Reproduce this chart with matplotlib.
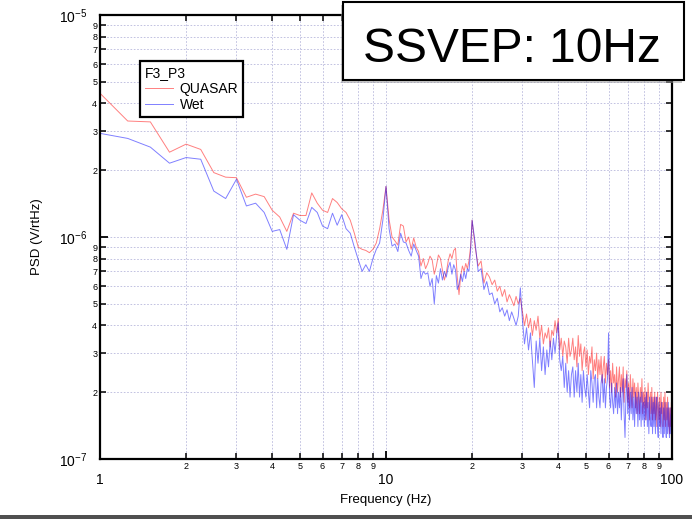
import numpy as np
import matplotlib
matplotlib.use("Agg")
import matplotlib.pyplot as plt
from matplotlib.ticker import FuncFormatter, LogLocator
from matplotlib.patches import Rectangle

plt.rcParams["font.family"] = ["Liberation Sans", "DejaVu Sans"]
plt.rcParams["mathtext.default"] = "regular"

# sample grid of the spectrum (Hz): 0.25 Hz below 20 Hz, 0.5 Hz above
f_low = np.arange(1, 20, 0.25)
f_high = np.arange(20, 100.01, 0.5)

# PSD values in units of 1e-7 V/rtHz
quasar_low = [
    44.4, 33.3, 33.0, 24.1, 26.2, 24.8, 19.5, 18.6, 18.5, 15.1,
    15.6, 15.2, 13.2, 12.3, 10.6, 12.8, 12.5, 12.5, 15.8, 14.2,
    13.2, 12.9, 14.9, 14.3, 13.4, 12.9, 11.9, 10.4, 9.0, 8.8,
    8.7, 8.5, 8.8, 9.4, 10.9, 13.2, 16.9, 12.0, 10.0, 9.6,
    9.2, 11.4, 11.2, 9.5, 10.0, 8.8, 9.9, 9.0, 8.6, 7.4,
    8.0, 7.2,
    7.6, 8.2, 7.9, 6.8, 7.4, 8.3, 8.0, 7.1, 6.4, 6.9,
    7.8, 8.4, 8.0, 8.7, 8.9, 6.6, 5.5, 6.7, 7.4, 7.0,
    7.6, 7.2, 7.8, 9.0,
]
quasar_high = [
    11.9, 9.0, 7.4, 7.8, 6.2, 6.9, 6.6, 6.1, 6.4, 5.7,
    6.0, 5.4, 5.8, 5.1, 5.5, 5.2, 4.9, 5.4, 5.0, 5.3,
    4.6, 4.0, 4.5, 3.9, 4.3, 3.6, 4.2, 3.8, 4.4, 3.5,
    4.0, 3.3, 3.7, 3.5, 3.9, 3.2, 3.8, 3.6, 4.2, 3.7,
    4.3, 3.1, 3.5, 2.9, 3.4, 3.2, 2.7, 3.5, 2.9, 3.1,
    3.5, 2.8, 3.2, 2.6, 3.6, 2.9, 3.3, 2.5, 3.0, 3.2,
    2.6, 3.1, 2.4, 2.9, 2.7, 3.2, 2.3, 2.8, 2.5, 3.0,
    2.3, 2.8, 2.4, 2.9, 2.2, 2.6, 2.9, 2.2, 2.7, 2.4,
    2.8, 2.1, 2.5, 2.0, 2.7, 2.2, 2.4, 1.9, 2.6, 2.0,
    2.3, 2.6, 1.9, 2.4, 2.0, 2.6, 1.8, 2.3, 2.1, 2.5,
    1.8, 2.2, 1.7, 2.4, 2.0, 1.7, 2.3, 1.9, 2.2, 1.7,
    2.1, 1.6, 2.2, 1.9, 1.6, 2.1, 1.8, 2.3, 1.6, 2.0,
    1.7, 2.1, 1.5, 2.0, 1.7, 2.2, 1.8, 1.5, 2.0, 1.6,
    2.1, 1.5, 1.9, 1.6, 2.0, 1.5, 1.9, 1.4, 2.0, 1.7,
    1.5, 1.9, 1.4, 2.0, 1.6, 1.8, 1.4, 1.9, 1.5, 2.0,
    1.4, 1.8, 1.5, 1.9, 1.4, 1.7, 1.3, 1.7, 1.4, 1.8,
    1.4,
]
wet_low = [
    29.3, 27.8, 25.4, 21.5, 22.8, 22.4, 16.1, 14.9, 18.2, 13.8,
    14.2, 12.9, 10.6, 10.8, 8.8, 12.6, 11.9, 11.5, 13.6, 12.9,
    11.2, 10.9, 12.8, 11.3, 12.6, 10.9, 10.4, 9.0, 7.9, 7.0,
    7.5, 7.0, 8.0, 8.8, 9.4, 11.9, 16.9, 10.9, 9.1, 9.3,
    8.6, 10.4, 9.5, 9.4, 8.7, 8.2, 9.3, 8.7, 8.2, 6.5,
    7.0, 6.8,
    6.9, 6.0, 6.5, 5.0, 6.7, 6.2, 7.2, 6.4, 7.0, 6.6,
    7.3, 7.7, 6.8, 7.5, 7.1, 5.8, 6.1, 6.8, 6.3, 7.0,
    6.5, 7.2, 7.0, 8.6,
]
wet_high = [
    11.9, 9.4, 7.0, 7.2, 5.8, 6.3, 5.5, 5.6, 5.0, 5.3,
    4.6, 4.8, 4.4, 4.7, 4.2, 4.6, 4.3, 4.0, 4.4, 5.9,
    4.2, 3.3, 3.9, 3.1, 3.7, 2.8, 2.1, 3.4, 2.7, 3.5,
    2.5, 3.2, 2.4, 3.1, 2.6, 3.4, 2.8, 3.5, 3.0, 3.6,
    4.1, 2.8, 2.5, 2.9, 2.1, 2.7, 2.0, 2.5, 1.9, 2.4,
    2.6, 1.9, 2.5, 2.0, 2.7, 1.9, 2.4, 1.8, 2.5, 2.1,
    1.9, 2.4, 2.0, 1.7, 2.5, 2.2, 1.8, 2.3, 2.4, 1.7,
    2.3, 1.9, 1.7, 2.2, 2.4, 1.8, 2.3, 1.7, 2.1, 2.3,
    3.7, 1.9, 1.7, 2.2, 1.8, 1.6, 2.1, 1.7, 2.2, 1.6,
    2.0, 1.7, 2.1, 1.5, 2.0, 2.3, 1.6, 1.25, 1.9, 2.4,
    1.6, 2.1, 1.5, 2.0, 1.6, 2.1, 1.5, 1.9, 1.4, 2.0,
    1.6, 1.9, 1.4, 2.0, 1.5, 1.9, 1.4, 2.0, 1.5, 1.8,
    1.4, 1.9, 1.5, 2.0, 1.4, 1.8, 1.3, 1.9, 1.5, 1.4,
    1.9, 1.3, 1.8, 1.4, 1.9, 1.3, 1.7, 1.9, 1.4, 1.25,
    1.8, 1.4, 1.7, 1.3, 1.8, 1.4, 1.25, 1.7, 1.3, 1.8,
    1.4, 1.25, 1.7, 1.3, 1.8, 1.4, 1.25, 1.7, 1.3, 1.6,
    1.4,
]

freq = np.concatenate([f_low, f_high])
quasar = np.array(quasar_low + quasar_high) * 1e-7
wet = np.array(wet_low + wet_high) * 1e-7

fig = plt.figure(figsize=(6.92, 5.19), dpi=100)
ax = fig.add_axes([100 / 692, 60 / 519, 572 / 692, 444 / 519])

ax.plot(freq, quasar, color="red", lw=0.7, alpha=0.5, label="QUASAR")
ax.plot(freq, wet, color="blue", lw=0.7, alpha=0.5, label="Wet")

ax.set_xscale("log")
ax.set_yscale("log")
ax.set_xlim(1, 100)
ax.set_ylim(1e-7, 1e-5)

ax.xaxis.set_minor_locator(LogLocator(base=10, subs=np.arange(2, 10)))
ax.yaxis.set_minor_locator(LogLocator(base=10, subs=np.arange(2, 10)))

def mantissa(v, pos):
    return "%d" % round(v / 10 ** np.floor(np.log10(v) + 1e-9))

ax.xaxis.set_major_formatter(FuncFormatter(lambda v, p: "%g" % v))
ax.xaxis.set_minor_formatter(FuncFormatter(mantissa))
ax.yaxis.set_minor_formatter(FuncFormatter(mantissa))

ax.tick_params(which="both", direction="in", top=True, right=True, color="black")
ax.tick_params(which="major", length=6, width=1.3, labelsize=10)
ax.tick_params(which="minor", length=4, width=1.1, labelsize=6.5, pad=2)
ax.tick_params(axis="x", which="major", pad=10)
ax.tick_params(axis="y", which="major", pad=9)

for s in ax.spines.values():
    s.set_linewidth(1.6)

ax.grid(which="both", linestyle=(0, (2, 2)), color="#b8b8dc", lw=0.6)

leg = ax.legend(title="F3_P3", loc="upper left", bbox_to_anchor=(0.07, 0.896),
                borderaxespad=0, fontsize=10, title_fontsize=10, fancybox=False,
                framealpha=1, edgecolor="black", handlelength=2.0,
                handletextpad=0.5, borderpad=0.35, labelspacing=0.15,
                alignment="left")
leg.get_frame().set_linewidth(1.6)

ax.set_xlabel("Frequency (Hz)", fontsize=9.5)
ax.set_ylabel("PSD (V/rtHz)", fontsize=9.5)
ax.xaxis.set_label_coords(0.5, -0.078)
ax.yaxis.set_label_coords(-0.1, 0.5)

# title box in the corner with a soft shadow
shadow = Rectangle((341 / 692, 1 - 83 / 519), 341 / 692, 78 / 519, transform=fig.transFigure,
                   fc="#999999", ec="none", alpha=0.5, zorder=4)
box = Rectangle((343 / 692, 1 - 80 / 519), 341 / 692, 78 / 519, transform=fig.transFigure,
                fc="white", ec="black", lw=1.5, zorder=5)
fig.add_artist(shadow)
fig.add_artist(box)
fig.text(512 / 692, 1 - 62 / 519, "SSVEP: 10Hz", fontsize=34.5, ha="center",
         va="baseline", zorder=6)

# dark strip along the bottom edge
fig.add_artist(Rectangle((0, 0), 1, 4 / 519, transform=fig.transFigure,
                         fc="#505050", ec="none", zorder=6))

fig.savefig("out.png", dpi=100)
